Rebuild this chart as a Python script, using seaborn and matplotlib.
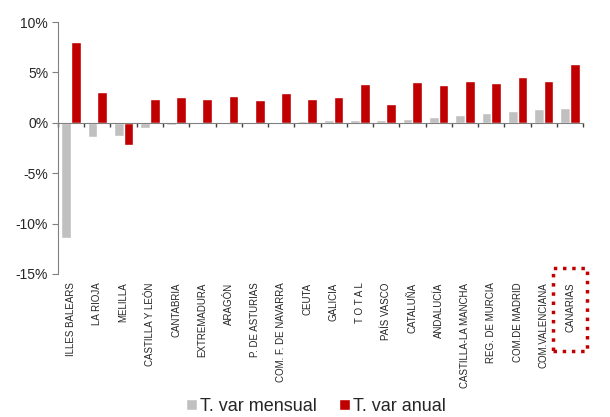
import matplotlib
matplotlib.use('Agg')
import matplotlib.pyplot as plt
import matplotlib.patches as patches
from matplotlib.ticker import FuncFormatter, FixedLocator
import pandas as pd
import seaborn as sns

# Data (% variation)
regions = ['ILLES BALEARS', 'LA RIOJA', 'MELILLA', 'CASTILLA Y LEÓN', 'CANTABRIA',
           'EXTREMADURA', 'ARAGÓN', 'P. DE ASTURIAS', 'COM. F. DE NAVARRA', 'CEUTA',
           'GALICIA', 'T O T A L', 'PAÍS VASCO', 'CATALUÑA', 'ANDALUCÍA',
           'CASTILLA-LA MANCHA', 'REG. DE MURCIA', 'COM.DE MADRID', 'COM.VALENCIANA', 'CANARIAS']
mensual = [-11.4, -1.4, -1.35, -0.55, -0.25, -0.12, -0.03, 0.05, 0.08, 0.18,
           0.3, 0.33, 0.33, 0.43, 0.56, 0.79, 0.99, 1.19, 1.39, 1.49]
anual = [8.0, 3.04, -2.2, 2.38, 2.57, 2.37, 2.7, 2.25, 2.94, 2.38,
         2.54, 3.83, 1.85, 4.03, 3.8, 4.19, 3.93, 4.55, 4.19, 5.84]
series_names = ['T. var mensual', 'T. var anual']

df = pd.DataFrame({'region': regions, series_names[0]: mensual, series_names[1]: anual})
df_long = df.melt(id_vars='region', var_name='serie', value_name='value')

sns.set_style('white')
plt.rcParams['font.family'] = ['Liberation Sans', 'DejaVu Sans']

fig = plt.figure(figsize=(6.1, 4.17), dpi=100)
ax = fig.add_axes([0.095, 0.343, 0.861, 0.604])

sns.barplot(data=df_long, x='region', y='value', hue='serie', order=regions,
            palette=['#C0C0C0', '#C00000'], width=0.74, saturation=1, ax=ax)

ax.set_ylim(-15, 10)
ax.set_xlim(-0.5, len(regions) - 0.5)
ax.set_yticks(range(-15, 11, 5))
ax.yaxis.set_major_formatter(FuncFormatter(lambda v, p: '{:.0f}%'.format(v)))
ax.set_xlabel('')
ax.set_ylabel('')

for s in ['top', 'right']:
    ax.spines[s].set_visible(False)
ax.spines['left'].set_color('#808080')
# x axis line sits on zero, category labels pushed down below the plot
ax.spines['bottom'].set_position(('data', 0))
ax.spines['bottom'].set_color('#808080')
ax.xaxis.set_minor_locator(FixedLocator([i - 0.5 for i in range(len(regions) + 1)]))
ax.tick_params(axis='y', left=True, length=4, color='#808080', labelsize=10, pad=3)
ax.tick_params(axis='x', which='major', bottom=True, length=0, labelsize=7, pad=115)
ax.tick_params(axis='x', which='minor', bottom=True, length=3, width=1,
               direction='out', color='#404040')
plt.setp(ax.get_xticklabels(), rotation=90, ha='center', va='top')

# legend below chart
handles, labels = ax.get_legend_handles_labels()
ax.get_legend().remove()
fig.legend(handles, labels, loc='center', bbox_to_anchor=(0.518, 0.026), ncol=2,
           frameon=False, fontsize=13, handlelength=0.6, handleheight=0.6,
           handletextpad=0.2, columnspacing=1.2)

# dotted highlight around CANARIAS
rect = patches.Rectangle((0.9066, 0.158), 0.0557, 0.199, transform=fig.transFigure,
                         fill=False, edgecolor='#C00000', linestyle=':', linewidth=2.5)
fig.patches.append(rect)

fig.savefig('out.png', dpi=100)
